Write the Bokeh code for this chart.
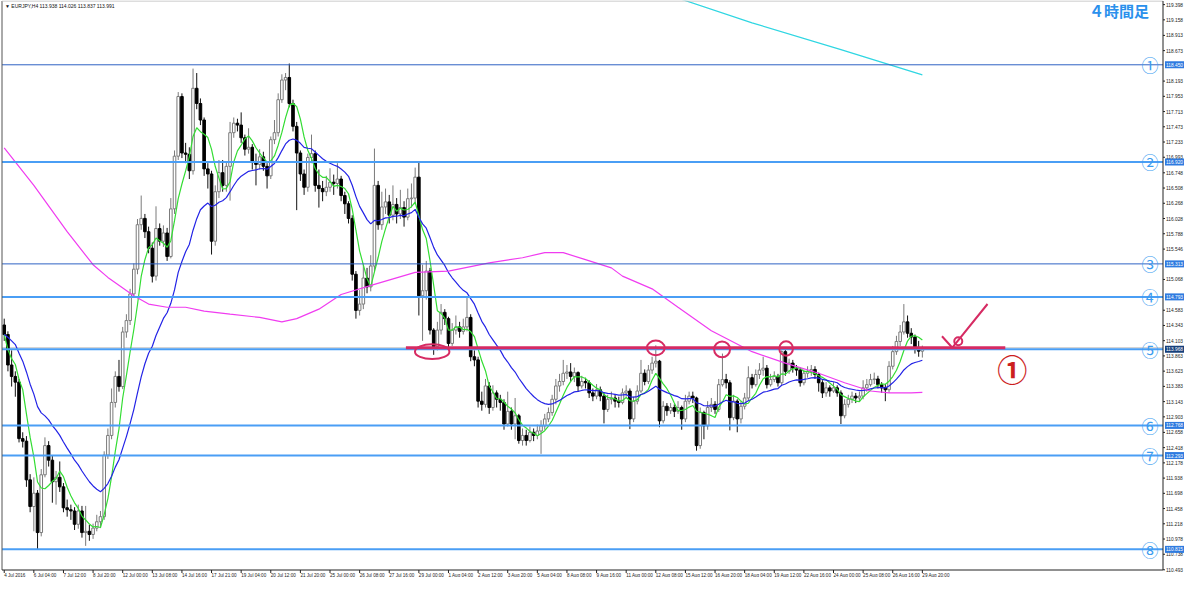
import pandas as pd
from bokeh.plotting import figure
from bokeh.models import ColumnDataSource, Range1d, Label
from bokeh.core.properties import value
from bokeh.embed import file_html
from bokeh.resources import INLINE

# ---------------- data (EURJPY H4) ----------------
first_open = 114.35
closes = [
    114.20, 113.72, 113.54, 113.45, 112.56, 112.52, 111.91, 111.49, 111.70, 111.08,
    111.99, 112.45, 112.22, 111.88, 111.95, 111.80, 111.47, 111.44, 111.42, 111.21,
    111.42, 111.08, 111.10, 111.05, 111.15, 111.25, 111.33, 112.30, 112.61, 113.13,
    113.54, 113.38, 114.24, 114.42, 114.84, 115.23, 115.93, 116.03, 115.82, 115.56,
    115.12, 115.87, 115.67, 115.80, 115.43, 116.18, 117.01, 117.95, 117.06, 117.04,
    116.78, 118.08, 117.84, 117.58, 116.81, 116.73, 115.67, 116.45, 116.75, 116.55,
    116.85, 117.38, 117.53, 117.50, 117.30, 117.12, 117.15, 116.91, 116.88, 117.00,
    116.85, 116.70, 117.27, 117.38, 117.90, 118.21, 118.25, 117.84, 117.48, 117.06,
    116.73, 116.52, 116.99, 117.05, 116.55, 116.50, 116.45, 116.52, 116.60, 116.58,
    116.65, 116.39, 116.26, 116.03, 115.15, 114.58, 114.68, 115.09, 114.95, 115.28,
    116.55, 115.93, 116.21, 116.29, 116.08, 116.25, 116.10, 116.20, 116.05, 116.34,
    116.35, 116.68, 114.81, 114.89, 115.20, 114.27, 114.01, 114.27, 114.55, 114.45,
    114.06, 114.27, 114.32, 114.25, 114.32, 114.47, 113.85, 113.80, 113.15, 113.10,
    113.39, 113.05, 113.28, 113.18, 113.13, 112.79, 112.99, 112.79, 112.92, 112.53,
    112.61, 112.53, 112.66, 112.61, 112.68, 112.76, 112.87, 112.97, 113.18, 113.39,
    113.46, 113.59, 113.61, 113.54, 113.60, 113.39, 113.46, 113.44, 113.28, 113.23,
    113.33, 113.23, 113.02, 113.18, 113.20, 113.15, 113.13, 113.28, 113.31, 112.87,
    113.15, 113.31, 113.59, 113.46, 113.64, 113.75, 113.78, 112.84, 113.07, 113.00,
    113.05, 112.99, 113.05, 112.87, 113.15, 113.23, 113.20, 112.45, 112.97, 112.76,
    113.05, 113.10, 113.02, 113.41, 113.49, 113.44, 112.89, 113.15, 112.87, 113.07,
    113.20, 113.52, 113.41, 113.57, 113.64, 113.67, 113.41, 113.49, 113.54, 113.44,
    113.93, 113.62, 113.75, 113.67, 113.64, 113.44, 113.59, 113.62, 113.65, 113.57,
    113.44, 113.28, 113.36, 113.31, 113.36, 113.28, 112.92, 113.10, 113.18, 113.23,
    113.20, 113.23, 113.36, 113.41, 113.49, 113.50, 113.41, 113.36, 113.33, 113.70,
    113.93, 114.09, 114.24, 114.40, 114.22, 114.16, 113.98, 113.938, 113.991,
]
highs = [
    114.45, 114.25, 113.95, 113.62, 113.50, 112.66, 112.60, 112.00, 111.95, 111.75,
    112.08, 112.58, 112.52, 112.30, 112.05, 112.20, 111.86, 111.60, 111.52, 111.48,
    111.52, 111.50, 111.50, 111.20, 111.22, 111.36, 111.42, 112.36, 112.72, 113.35,
    113.62, 113.80, 114.32, 114.52, 114.92, 115.32, 116.02, 116.39, 116.10, 115.90,
    115.65, 116.22, 115.95, 115.92, 115.88, 116.35, 117.10, 118.02, 118.00, 117.22,
    117.15, 118.39, 118.32, 117.92, 117.62, 116.90, 116.78, 116.55, 116.95, 116.95,
    116.92, 117.55, 117.62, 117.60, 117.70, 117.35, 117.45, 117.20, 117.05, 117.12,
    117.08, 116.90, 117.32, 117.58, 118.00, 118.30, 118.32, 118.47, 117.90, 117.55,
    117.10, 116.80, 117.05, 117.35, 117.10, 116.80, 116.62, 116.70, 116.82, 116.72,
    116.90, 116.70, 116.45, 116.30, 116.08, 115.20, 114.90, 115.30, 115.25, 115.45,
    117.13, 116.62, 116.45, 116.50, 116.40, 116.55, 116.35, 116.48, 116.30, 116.50,
    116.58, 116.83, 116.91, 115.30, 115.36, 115.25, 114.30, 114.40, 114.68, 114.60,
    114.48, 114.38, 114.50, 114.40, 114.45, 114.79, 114.52, 113.95, 113.85, 113.30,
    113.50, 113.45, 113.40, 113.32, 113.25, 113.18, 113.30, 113.05, 113.20, 112.95,
    112.72, 112.70, 112.75, 112.72, 112.78, 112.85, 112.95, 113.05, 113.25, 113.50,
    113.58, 113.80, 113.72, 113.75, 113.68, 113.62, 113.55, 113.52, 113.48, 113.35,
    113.42, 113.38, 113.28, 113.25, 113.30, 113.26, 113.22, 113.35, 113.40, 113.35,
    113.22, 113.40, 113.80, 113.65, 113.72, 113.85, 114.03, 113.80, 113.15, 113.12,
    113.12, 113.10, 113.15, 113.08, 113.25, 113.30, 113.30, 113.22, 113.05, 113.00,
    113.15, 113.20, 113.15, 113.50, 113.90, 113.58, 113.48, 113.25, 113.18, 113.15,
    113.28, 113.70, 113.58, 113.65, 113.75, 113.85, 113.72, 113.58, 113.62, 113.58,
    113.95, 113.96, 113.82, 113.80, 113.72, 113.68, 113.65, 113.70, 113.72, 113.70,
    113.60, 113.48, 113.45, 113.40, 113.45, 113.40, 113.32, 113.18, 113.25, 113.30,
    113.28, 113.30, 113.48, 113.50, 113.58, 113.60, 113.55, 113.45, 113.42, 113.78,
    114.02, 114.18, 114.35, 114.68, 114.50, 114.30, 114.20, 114.10, 114.026,
]
lows = [
    114.10, 113.62, 113.38, 113.22, 112.50, 112.42, 111.80, 111.40, 111.10, 110.82,
    111.02, 111.95, 112.12, 111.55, 111.52, 111.72, 111.40, 111.33, 111.28, 111.12,
    111.14, 111.00, 110.87, 110.95, 110.98, 111.10, 111.15, 111.28, 112.24, 112.55,
    113.05, 113.30, 113.34, 114.15, 114.35, 114.78, 115.15, 115.85, 115.72, 115.48,
    115.02, 115.05, 115.60, 115.58, 115.36, 115.40, 116.10, 116.95, 116.98, 116.90,
    116.65, 116.72, 117.75, 117.50, 116.70, 116.50, 115.46, 115.60, 116.35, 116.45,
    116.45, 116.31, 117.30, 117.40, 117.22, 117.02, 117.05, 116.80, 116.55, 116.80,
    116.78, 116.50, 116.65, 117.20, 117.32, 117.85, 118.05, 117.78, 117.40, 116.16,
    116.62, 116.40, 116.45, 116.90, 116.45, 116.20, 116.30, 116.38, 116.45, 116.40,
    116.50, 116.30, 116.10, 115.95, 115.05, 114.45, 114.50, 114.60, 114.85, 114.88,
    115.20, 115.85, 115.85, 116.10, 115.95, 116.00, 115.95, 116.02, 115.90, 116.00,
    116.20, 116.25, 114.50, 114.10, 114.75, 114.20, 113.88, 113.95, 114.20, 114.35,
    114.00, 114.02, 114.20, 114.15, 114.20, 114.25, 113.78, 113.70, 113.05, 113.00,
    113.05, 112.95, 113.00, 113.05, 113.00, 112.70, 112.75, 112.70, 112.55, 112.48,
    112.45, 112.45, 112.50, 112.52, 112.55, 112.32, 112.70, 112.82, 112.92, 113.10,
    113.30, 113.40, 113.50, 113.45, 113.45, 113.30, 113.35, 113.35, 113.20, 113.15,
    113.18, 113.15, 112.80, 112.98, 113.10, 113.05, 113.05, 113.10, 113.22, 112.71,
    112.82, 113.10, 113.28, 113.40, 113.42, 113.58, 113.68, 112.74, 112.80, 112.92,
    112.95, 112.90, 112.95, 112.70, 112.82, 113.10, 113.12, 112.37, 112.40, 112.55,
    112.70, 112.98, 112.95, 112.98, 113.38, 113.35, 112.69, 112.85, 112.66, 112.80,
    113.02, 113.15, 113.35, 113.38, 113.50, 113.55, 113.35, 113.38, 113.45, 113.38,
    113.40, 113.55, 113.58, 113.60, 113.55, 113.38, 113.40, 113.52, 113.55, 113.50,
    113.30, 113.20, 113.22, 113.22, 113.28, 113.22, 112.79, 112.88, 113.05, 113.12,
    113.12, 113.15, 113.18, 113.30, 113.38, 113.42, 113.35, 113.28, 113.15, 113.28,
    113.65, 113.88, 114.02, 114.20, 114.15, 114.05, 113.90, 113.85, 113.837,
]
opens = [first_open] + closes[:-1]
bars = list(range(len(closes)))

# long moving averages (bar index, price)
magenta_bars = [0, 8, 17, 24, 28, 35, 39, 44, 49, 54, 61, 69, 75, 79, 85, 91, 100, 111, 120,
                131, 140, 146, 151, 157, 164, 167, 175, 182, 191, 202, 211, 220, 227, 234,
                239, 245, 248]
magenta_vals = [117.14, 116.55, 115.82, 115.30, 115.10, 114.81, 114.68, 114.63, 114.63, 114.57,
                114.52, 114.47, 114.40, 114.45, 114.60, 114.83, 114.99, 115.18, 115.20, 115.33,
                115.41, 115.49, 115.49, 115.38, 115.25, 115.12, 114.92, 114.63, 114.26, 113.93,
                113.75, 113.59, 113.44, 113.31, 113.28, 113.28, 113.29]
cyan_bars = [182, 202, 226, 248]
cyan_vals = [119.50, 119.11, 118.69, 118.29]

x_tick_bars = list(range(0, 249, 8))
x_tick_labels = ["4 Jul 2016", "6 Jul 04:00", "7 Jul 12:00", "8 Jul 20:00", "12 Jul 00:00",
                 "13 Jul 08:00", "14 Jul 16:00", "17 Jul 21:00", "19 Jul 04:00", "20 Jul 12:00",
                 "21 Jul 20:00", "25 Jul 00:00", "26 Jul 08:00", "27 Jul 16:00", "29 Jul 00:00",
                 "1 Aug 04:00", "2 Aug 12:00", "3 Aug 20:00", "5 Aug 04:00", "8 Aug 08:00",
                 "9 Aug 16:00", "11 Aug 00:00", "12 Aug 08:00", "15 Aug 12:00", "16 Aug 20:00",
                 "18 Aug 04:00", "19 Aug 12:00", "22 Aug 16:00", "24 Aug 00:00", "25 Aug 08:00",
                 "26 Aug 16:00", "29 Aug 20:00"]
y_ticks = [119.398, 119.158, 118.913, 118.673, 118.193, 117.953, 117.713, 117.473, 117.233,
           116.993, 116.748, 116.508, 116.268, 116.028, 115.788, 115.546, 115.068, 114.583,
           114.343, 114.103, 113.863, 113.623, 113.383, 113.143, 112.903, 112.658, 112.418,
           112.178, 111.938, 111.698, 111.458, 111.218, 110.978, 110.738, 110.493]

level_prices = [118.450, 116.920, 115.313, 114.793, 113.968, 112.768, 112.293, 110.815]
level_marks = ["①", "②", "③", "④", "⑤", "⑥", "⑦", "⑧"]
bid_price = 113.991
resistance = 113.99
header_text = "▼  EURJPY,H4  113.938 114.026 113.837 113.991"

# ---------------- styles / geometry ----------------
level_colors = ["#2f62c4", "#4a9ef5", "#2f62c4", "#4a9ef5", "#4a9ef5", "#4a9ef5", "#4a9ef5", "#4a9ef5"]
level_widths = [1, 2, 1, 2, 2, 2, 2, 2]
label_bg = ["#2f7be0", "#2f7be0", "#2f7be0", "#2f7be0", "#163f7a", "#2f7be0", "#2f7be0", "#2f7be0"]
RED = "#d62b63"
SCALE_FONT = value("Liberation Sans")

W, H = 1184, 577
LEFT_PX, RIGHT_PX, TOP_PX, BOTTOM_PX = 1.5, 1162.5, 0.5, 569.5
CX0, CX1 = -0.6, 313.0          # chart area (bars)
CY0, CY1 = 110.49, 119.455      # chart area (price)
bpp = (CX1 - CX0) / (RIGHT_PX - LEFT_PX)
ppp = (CY1 - CY0) / (BOTTOM_PX - TOP_PX)
XR = (CX0 - LEFT_PX * bpp, CX0 + (W - LEFT_PX) * bpp)
YR = (CY0 - (H - BOTTOM_PX) * ppp, CY1 + TOP_PX * ppp)

p = figure(width=W, height=H, x_range=Range1d(*XR), y_range=Range1d(*YR),
           x_axis_location=None, y_axis_location=None, output_backend="svg",
           toolbar_location=None, min_border_left=0, min_border_right=0,
           min_border_top=0, min_border_bottom=0,
           background_fill_color="white", border_fill_color="white")
p.grid.visible = False
p.outline_line_color = None

# bid line
p.segment(x0=[CX0], y0=[bid_price], x1=[CX1], y1=[bid_price], line_color="#c4c4c4", line_width=1)

# candles
df = pd.DataFrame(dict(x=bars, o=opens, h=highs, l=lows, c=closes))
up = ColumnDataSource(df[df.c >= df.o])
dn = ColumnDataSource(df[df.c < df.o])
p.segment(x0="x", y0="h", x1="x", y1="l", source=up, line_color="#7a7a7a", line_width=1)
p.vbar(x="x", width=0.7, top="c", bottom="o", source=up, fill_color="white",
       line_color="#7a7a7a", line_width=1)
p.segment(x0="x", y0="h", x1="x", y1="l", source=dn, line_color="#111111", line_width=1)
p.vbar(x="x", width=0.7, top="o", bottom="c", source=dn, fill_color="black",
       line_color="black", line_width=1)

# moving averages
cs = pd.Series(closes)
green_ma = cs.rolling(6, min_periods=1).mean()
blue_ma = cs.ewm(span=21, adjust=False).mean()
p.line(bars, list(green_ma), line_color="#33dd33", line_width=1.2)
p.line(bars, list(blue_ma), line_color="#2323e6", line_width=1.2)
p.line(magenta_bars, magenta_vals, line_color="#f03cf0", line_width=1.2)
p.line(cyan_bars, cyan_vals, line_color="#2fd6e2", line_width=1.2)

# white mask above the chart top (cyan line starts above the visible range)
p.quad(left=[XR[0]], right=[XR[1]], bottom=[CY1], top=[YR[1] + 1], fill_color="white", line_color=None)

# horizontal levels
for lv, col, lw in zip(level_prices, level_colors, level_widths):
    p.segment(x0=[CX0], y0=[lv], x1=[CX1], y1=[lv], line_color=col, line_width=lw)

p.text(x=[CX1 - 13 * bpp] * len(level_prices), y=level_prices, text=level_marks,
       text_font=value("Noto Sans CJK JP"), text_font_size="17px", text_color="#3b9cf0",
       text_align="center", text_baseline="middle")

# chart border
p.segment(x0=[CX0, CX0, CX1, CX0], y0=[CY0, CY1, CY0, CY0],
          x1=[CX0, CX1, CX1, CX1], y1=[CY1, CY1, CY1, CY0],
          line_color=["#555555", "#bbbbbb", "#222222", "#222222"], line_width=1)

# price scale (right)
p.segment(x0=[CX1] * len(y_ticks), y0=y_ticks, x1=[CX1 + 2 * bpp] * len(y_ticks), y1=y_ticks,
          line_color="#222222", line_width=1)
p.text(x=[CX1] * len(y_ticks), y=y_ticks, text=[f"{t:.3f}" for t in y_ticks], x_offset=3,
       text_font=SCALE_FONT, text_font_size="4.8px", text_color="#222222",
       text_align="left", text_baseline="middle")
p.rect(x=[CX1 + 11.5 * bpp] * len(level_prices), y=level_prices, width=19, height=7,
       width_units="screen", height_units="screen", fill_color=label_bg, line_color=None)
p.text(x=[CX1] * len(level_prices), y=level_prices, text=[f"{lv:.3f}" for lv in level_prices],
       x_offset=3, text_font=SCALE_FONT, text_font_size="4.8px", text_color="white",
       text_align="left", text_baseline="middle")

# time scale (bottom)
p.segment(x0=x_tick_bars, y0=[CY0] * len(x_tick_bars), x1=x_tick_bars,
          y1=[CY0 - 3 * ppp] * len(x_tick_bars), line_color="#222222", line_width=1)
p.text(x=x_tick_bars, y=[CY0] * len(x_tick_bars), text=x_tick_labels, x_offset=0, y_offset=3,
       text_font=SCALE_FONT, text_font_size="4.6px", text_color="#222222",
       text_align="left", text_baseline="top")

# annotations
p.segment(x0=[108.5], y0=[resistance], x1=[270.4], y1=[resistance], line_color=RED, line_width=3)
p.ellipse(x=[115.6, 176.0, 193.9, 211.2], y=[113.93, 113.99, 113.966, 113.98],
          width=[9.3, 4.8, 4.3, 3.7], height=[0.233, 0.23, 0.25, 0.23],
          fill_color=None, line_color=RED, line_width=2)
p.line(x=[253.3, 256.1, 265.6], y=[114.173, 113.992, 114.681], line_color=RED, line_width=2)
p.scatter(x=[257.7], y=[114.095], marker="circle", size=8, fill_color=None,
          line_color=RED, line_width=2)
p.text(x=[272.3], y=[113.67], text=["①"], text_font=value("Noto Sans CJK JP"),
       text_font_size="30px", text_font_style="bold", text_color="#cc1f1f",
       text_align="center", text_baseline="middle")

p.text(x=[293.0], y=[119.30], text=["４時間足"], text_font=value("Noto Sans CJK JP"),
       text_font_size="15px", text_font_style="bold", text_color="#2a90ec",
       text_align="left", text_baseline="middle")

p.add_layout(Label(x=CX0, y=CY1, x_offset=3, y_offset=-2, text=header_text,
                   text_font_size="5px", text_font="Liberation Sans", text_color="#111111",
                   text_align="left", text_baseline="top"))

open("out.html", "w").write(file_html(p, INLINE))
